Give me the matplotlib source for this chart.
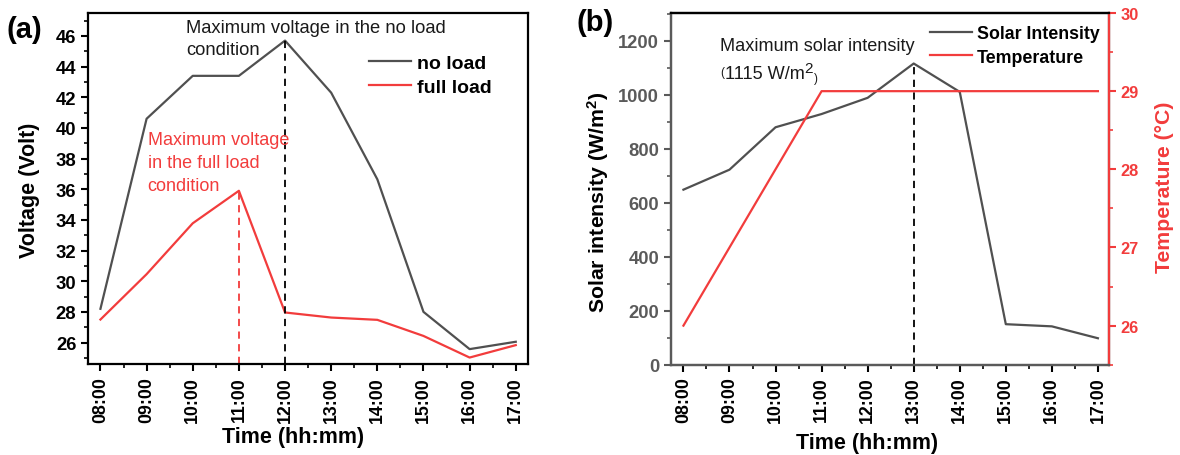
import matplotlib
matplotlib.use("Agg")
import matplotlib.pyplot as plt
from matplotlib.ticker import MultipleLocator

plt.rcParams['font.family'] = ['Liberation Sans', 'DejaVu Sans']
plt.rcParams['mathtext.fontset'] = 'custom'
plt.rcParams['mathtext.rm'] = 'Liberation Sans'
plt.rcParams['mathtext.bf'] = 'Liberation Sans:bold'
plt.rcParams['mathtext.it'] = 'Liberation Sans:italic'

# ---------------- data ----------------
times = ["08:00", "09:00", "10:00", "11:00", "12:00",
         "13:00", "14:00", "15:00", "16:00", "17:00"]
no_load = [28.2, 40.6, 43.4, 43.4, 45.7, 42.3, 36.65, 28.0, 25.57, 26.05]
full_load = [27.5, 30.46, 33.78, 35.9, 27.96, 27.63, 27.48, 26.43, 25.02, 25.83]
solar = [648, 722, 879, 928, 988, 1115, 1010, 150, 142, 98]
temperature = [26, 27, 28, 29, 29, 29, 29, 29, 29, 29]

GRAY = '#505050'
RED = '#f23c3c'
TXT = '#1a1a1a'
x = list(range(len(times)))

fig = plt.figure(figsize=(11.8, 4.56), dpi=100)

# ---------------- panel (a) ----------------
axa = fig.add_axes([0.0748, 0.1996, 0.3723, 0.7697])
axa.plot(x, no_load, color=GRAY, lw=1.6, label='no load')
axa.plot(x, full_load, color=RED, lw=1.6, label='full load')
axa.set_xlim(-0.264, 9.256)
axa.set_ylim(24.6, 47.5)
ybot = axa.get_ylim()[0]
imax_nl = no_load.index(max(no_load))
imax_fl = full_load.index(max(full_load))
axa.plot([imax_nl, imax_nl], [ybot, max(no_load)], color='black', lw=1.3, ls=(0, (4, 3)))
axa.plot([imax_fl, imax_fl], [ybot, max(full_load)], color=RED, lw=1.3, ls=(0, (4, 3)))

axa.set_xticks(x)
axa.set_xticklabels(times, rotation=90, fontsize=12.8, fontweight='bold')
axa.xaxis.set_minor_locator(MultipleLocator(0.5))
axa.yaxis.set_major_locator(MultipleLocator(2))
axa.yaxis.set_minor_locator(MultipleLocator(1))
for lab in axa.get_yticklabels():
    lab.set_fontweight('bold')
    lab.set_fontsize(13.3)
axa.tick_params(which='major', direction='out', length=5, width=1.5)
axa.tick_params(which='minor', direction='out', length=3, width=1.2)
for sp in axa.spines.values():
    sp.set_linewidth(1.6)

axa.set_ylabel('Voltage (Volt)', fontsize=15.5, fontweight='bold')
axa.yaxis.set_label_coords(-0.134, 0.497)
axa.yaxis.label.set_va('center')
axa.set_xlabel('Time (hh:mm)', fontsize=15.5, fontweight='bold')
axa.xaxis.set_label_coords(0.467, -0.208)
axa.xaxis.label.set_va('center')

axa.text(1.86, 45.85, 'Maximum voltage in the no load\ncondition', fontsize=13.2,
         ha='left', va='center', linespacing=1.4, color=TXT)
axa.text(1.02, 37.73, 'Maximum voltage\nin the full load\ncondition', fontsize=13,
         ha='left', va='center', linespacing=1.45, color=RED)

axa.legend(loc='upper left', bbox_to_anchor=(0.64, 0.882), frameon=False,
           prop={'weight': 'bold', 'size': 14}, borderpad=0, borderaxespad=0,
           handlelength=2.15, handletextpad=0.28, labelspacing=0.33)

fig.text(7 / 1180, 1 - 30 / 456, '(a)', fontsize=21, fontweight='bold',
         ha='left', va='center')

# ---------------- panel (b) ----------------
axb = fig.add_axes([671 / 1180, 0.198, 437.5 / 1180, 0.7713])
axb.plot(x, solar, color=GRAY, lw=1.6, label='Solar Intensity')
axb.set_xlim(-0.27, 9.23)
axb.set_ylim(0, 1302)
imax_s = solar.index(max(solar))
axb.plot([imax_s, imax_s], [0, max(solar)], color='black', lw=1.3, ls=(0, (4, 3)))

axt = axb.twinx()
axt.plot(x, temperature, color=RED, lw=1.6, label='Temperature')
axt.set_ylim(25.5, 30)

axb.set_xticks(x)
axb.set_xticklabels(times, rotation=90, fontsize=12.8, fontweight='bold')
axb.xaxis.set_minor_locator(MultipleLocator(0.5))
axb.yaxis.set_major_locator(MultipleLocator(200))
axb.yaxis.set_minor_locator(MultipleLocator(100))
for lab in axb.get_yticklabels():
    lab.set_fontweight('bold')
    lab.set_fontsize(13.2)
    lab.set_color('#5a5a5a')
axb.tick_params(which='major', direction='out', length=5, width=1.5)
axb.tick_params(which='minor', direction='out', length=3, width=1.2)
axb.tick_params(axis='y', which='both', color='#5a5a5a')

axt.yaxis.set_major_locator(MultipleLocator(1))
axt.yaxis.set_minor_locator(MultipleLocator(0.5))
for lab in axt.get_yticklabels():
    lab.set_fontweight('bold')
    lab.set_fontsize(11.8)
    lab.set_color(RED)
axt.tick_params(which='major', direction='out', length=5, width=1.5, color=RED)
axt.tick_params(which='minor', direction='out', length=3, width=1.2, color=RED)

for sp in axb.spines.values():
    sp.set_linewidth(1.6)
for sp in axt.spines.values():
    sp.set_linewidth(1.6)
axt.spines['left'].set_color('#5a5a5a')
axt.spines['bottom'].set_color('#5a5a5a')
axb.spines['left'].set_color('#5a5a5a')
axb.spines['bottom'].set_color('#5a5a5a')
axt.spines['right'].set_color(RED)
axt.spines['top'].set_color('black')

axb.set_ylabel(r'Solar intensity (W/m$^{\mathbf{2}}$)', fontsize=15.3, fontweight='bold')
axb.yaxis.set_label_coords(-0.166, 0.465)
axb.yaxis.label.set_va('center')
axb.set_xlabel('Time (hh:mm)', fontsize=15.5, fontweight='bold')
axb.xaxis.set_label_coords(0.449, -0.22)
axb.xaxis.label.set_va('center')
axt.set_ylabel('Temperature (°C)', fontsize=15.3, fontweight='bold', color=RED)
axt.yaxis.set_label_coords(1.129, 0.508)
axt.yaxis.label.set_va('center')

axb.text(0.80, 1180, 'Maximum solar intensity', fontsize=13.1, ha='left',
         va='center', color=TXT)
# "(1115 W/m2)" with small parentheses and a raised 2, built from pieces
t_open = axb.text(0.80, 1072, '(', fontsize=8.5, ha='left', va='baseline', color=TXT)
t_main = axb.annotate('1115 W/m', xy=(1, 0), xycoords=t_open, xytext=(0.8, 0),
                      textcoords='offset points', fontsize=13.1, ha='left',
                      va='baseline', color=TXT)
t_sup = axb.annotate('2', xy=(1, 1), xycoords=t_main, xytext=(-0.6, 3.2),
                     textcoords='offset points', fontsize=11, ha='left',
                     va='top', color=TXT)
axb.annotate(')', xy=(1, 0), xycoords=(t_sup, t_main), xytext=(0.6, -1.5),
             textcoords='offset points', fontsize=8.5, ha='left',
             va='bottom', color=TXT)

h1, l1 = axb.get_legend_handles_labels()
h2, l2 = axt.get_legend_handles_labels()
axt.legend(h1 + h2, l1 + l2, loc='upper left', bbox_to_anchor=(0.592, 0.966),
           frameon=False, prop={'weight': 'bold', 'size': 12.8}, borderpad=0,
           borderaxespad=0, handlelength=2.36, handletextpad=0.28, labelspacing=0.38)

fig.text(576 / 1180, 1 - 23 / 456, '(b)', fontsize=21, fontweight='bold',
         ha='left', va='center')

fig.savefig('out.png', dpi=100)
